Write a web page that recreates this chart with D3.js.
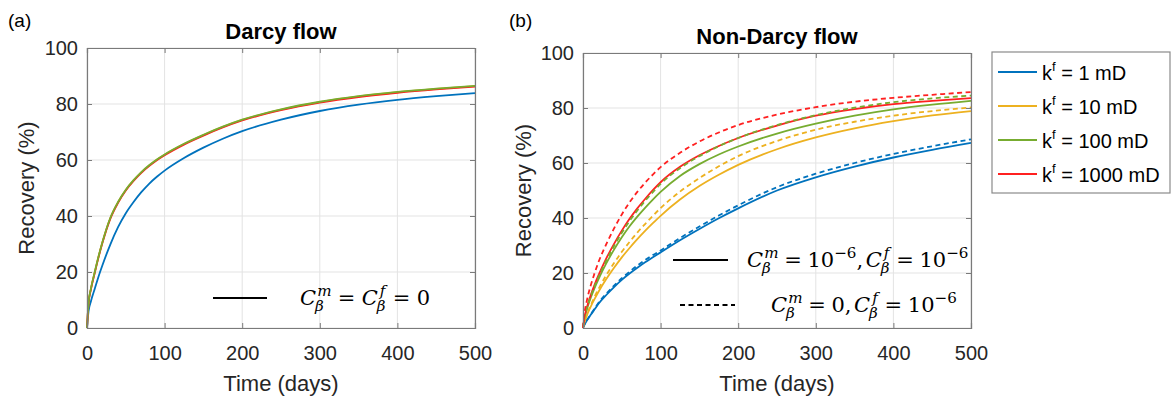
<!DOCTYPE html>
<html><head><meta charset="utf-8">
<script src="https://cdn.jsdelivr.net/npm/d3@7"></script>
<style>
body{margin:0;background:#fff;}
svg{display:block;font-family:"Liberation Sans",Arial,sans-serif;}
</style></head>
<body><svg id="chart" width="1173" height="403"></svg>
<script>
// ---------- data ----------
const days = [0,2,5,10,15,20,30,40,50,60,70,80,90,100,125,150,175,200,250,300,350,400,450,500];
const xTicks = [0,100,200,300,400,500];
const yTicks = [0,20,40,60,80,100];
const seriesNames = ["k^f = 1 mD","k^f = 10 mD","k^f = 100 mD","k^f = 1000 mD"];
const legendMD = ["1 mD","10 mD","100 mD","1000 mD"];
const seriesColors = ["#0072BD","#EDB120","#77AC30","#FF2020"];

// (a) Darcy flow
const darcy1    = [0,6,9.5,14,18.5,22.5,29.8,36,41,45,48.5,51.5,54,56.2,60.7,64.4,67.6,70.3,74.4,77.5,79.8,81.5,82.8,83.9];
const darcy10   = [0,8.9,13.9,19.9,25.6,30.7,39.2,44.9,49.3,52.7,55.6,58,60.1,61.9,65.7,68.9,71.8,74.3,78,80.7,82.7,84.2,85.4,86.4];
const darcy100  = [0,9,14,20,25.7,30.8,39.3,45,49.4,52.8,55.7,58.1,60.2,62,65.8,69,71.9,74.4,78.1,80.8,82.8,84.3,85.5,86.5];
const darcy1000 = [0,8.7,13.7,19.7,25.4,30.5,39,44.7,49.1,52.5,55.4,57.8,59.9,61.7,65.5,68.7,71.6,74.1,77.8,80.5,82.5,84,85.2,86.2];

// (b) Non-Darcy flow, solid: Cm=1e-6, Cf=1e-6
const solid1    = [0,1.2,2.7,4.8,6.8,8.8,12,14.9,17.5,19.8,21.9,23.9,25.7,27.5,31.9,36,39.9,43.5,50,54.8,58.7,62,64.8,67.3];
const solid10   = [0,2.2,4.6,7.8,10.6,13.2,17.8,21.9,25.7,29.1,32.3,35.3,38.1,40.8,46.7,51.6,55.7,59.3,65,69.3,72.6,75.2,77.3,78.9];
const solid100  = [0,3.5,6.8,11,14.6,17.8,23.5,28.5,33,37,40.5,43.7,46.7,49.5,55.3,59.6,63.1,66,70.7,74.3,77.2,79.5,81.2,82.6];
const solid1000 = [0,4,7.5,12,15.8,19.2,25.3,30.6,35.4,39.7,43.5,46.9,50.1,53,58.6,62.8,66.2,69.1,73.6,77.2,79.6,81.4,82.6,83.6];
// dashed: Cm=0, Cf=1e-6
const dash1    = [0,1.3,2.8,5,7.1,9.2,12.5,15.4,18.1,20.5,22.7,24.7,26.5,28.2,32.7,36.9,40.9,44.6,51.2,56.1,60,63.3,66.1,68.6];
const dash10   = [0,2.3,4.9,8.3,11.4,14.2,19.2,23.6,27.7,31.3,34.7,37.8,40.8,43.6,49.6,54.5,58.8,62.5,68,72.1,75,77.2,78.9,80.2];
const dash100  = [0,3.8,7.2,11.5,15.2,18.5,24.5,29.8,34.6,38.9,42.7,46.2,49.4,52.4,58.1,62.5,66.1,69.1,73.8,77.4,80.1,82.1,83.5,84.5];
const dash1000 = [0,5.5,10,15.5,20,24,30.5,36.2,41.3,45.7,49.5,52.8,55.8,58.5,63.7,67.8,71.1,73.8,77.6,80.3,82.3,83.7,84.8,85.8];

// ---------- drawing ----------
const svg = d3.select("#chart");
const gridColor = "#e3e3e3", frameColor = "#7a7a7a", textColor = "#262626";

function panel(left, top, right, bottom, title, titleY, ylabX, series) {
  const x = d3.scaleLinear().domain([0,500]).range([left,right]);
  const y = d3.scaleLinear().domain([0,100]).range([bottom,top]);
  const g = svg.append("g");
  g.append("g").selectAll("line").data(xTicks).join("line")
    .attr("x1",d=>x(d)).attr("x2",d=>x(d)).attr("y1",top).attr("y2",bottom)
    .attr("stroke",gridColor).attr("stroke-width",1);
  g.append("g").selectAll("line").data(yTicks).join("line")
    .attr("y1",d=>y(d)).attr("y2",d=>y(d)).attr("x1",left).attr("x2",right)
    .attr("stroke",gridColor).attr("stroke-width",1);
  const line = d3.line().x((d,i)=>x(days[i])).y(d=>y(d)).curve(d3.curveMonotoneX);
  series.forEach(s=>{
    g.append("path").datum(s.v).attr("d",line).attr("fill","none")
      .attr("stroke",s.c).attr("stroke-width",1.8)
      .attr("stroke-dasharray",s.dash?"5,3.5":null);
  });
  const xa = g.append("g").attr("transform",`translate(0,${bottom})`)
    .call(d3.axisBottom(x).tickValues(xTicks).tickSize(-5).tickPadding(0));
  const ya = g.append("g").attr("transform",`translate(${left},0)`)
    .call(d3.axisLeft(y).tickValues(yTicks).tickSize(-5).tickPadding(9));
  g.append("g").attr("transform",`translate(0,${top})`)
    .call(d3.axisTop(x).tickValues(xTicks).tickSize(-5).tickFormat(""));
  g.append("g").attr("transform",`translate(${right},0)`)
    .call(d3.axisRight(y).tickValues(yTicks).tickSize(-5).tickFormat(""));
  g.selectAll(".domain").attr("stroke",frameColor).attr("stroke-width",1.2);
  g.selectAll(".tick line").attr("stroke",frameColor);
  xa.selectAll(".tick text").attr("y",32).attr("dy",0)
    .attr("font-size",20).attr("fill",textColor).attr("font-family","Liberation Sans, Arial, sans-serif");
  ya.selectAll(".tick text").attr("font-size",20).attr("fill",textColor)
    .attr("font-family","Liberation Sans, Arial, sans-serif");
  g.append("text").attr("x",(left+right)/2).attr("y",391).attr("text-anchor","middle")
    .attr("font-size",22).attr("fill",textColor).text("Time (days)");
  g.append("text").attr("transform",`translate(${ylabX},${(top+bottom)/2}) rotate(-90)`)
    .attr("text-anchor","middle").attr("font-size",22).attr("fill",textColor).text("Recovery (%)");
  g.append("text").attr("x",(left+right)/2).attr("y",titleY).attr("text-anchor","middle")
    .attr("font-size",22).attr("font-weight","bold").attr("fill","#000").text(title);
  return {x,y,g};
}

const A = panel(87,48,475,328,"Darcy flow",39,34,[
  {v:darcy1,c:seriesColors[0]},
  {v:darcy10,c:seriesColors[1]},
  {v:darcy1000,c:seriesColors[3]},
  {v:darcy100,c:seriesColors[2]}
]);
const B = panel(583,53,971,328,"Non-Darcy flow",44,531,[
  {v:solid1,c:seriesColors[0]},
  {v:solid10,c:seriesColors[1]},
  {v:solid100,c:seriesColors[2]},
  {v:solid1000,c:seriesColors[3]},
  {v:dash1,c:seriesColors[0],dash:true},
  {v:dash10,c:seriesColors[1],dash:true},
  {v:dash100,c:seriesColors[2],dash:true},
  {v:dash1000,c:seriesColors[3],dash:true}
]);

svg.append("text").attr("x",8).attr("y",27).attr("font-size",19).attr("fill","#000").text("(a)");
svg.append("text").attr("x",509).attr("y",27).attr("font-size",19).attr("fill","#000").text("(b)");

function mathText(x0, y0, items, fs) {
  const g = svg.append("g").attr("font-family","DejaVu Serif, Liberation Serif, serif").attr("fill","#000");
  let cx = x0;
  items.forEach(it=>{
    if (it.gap) cx += it.gap*fs;
    if (it.t) {
      const el = g.append("text").attr("x",cx).attr("y",y0).attr("font-size",fs)
        .style("font-style",it.it?"italic":"normal").text(it.t);
      cx += el.node().getComputedTextLength();
    }
    if (it.sup || it.sub) {
      let w = 0;
      if (it.sup) {
        const e = g.append("text").attr("x",cx+(it.supShift||0)*fs).attr("y",y0-0.45*fs).attr("font-size",fs*0.72)
          .style("font-style",it.supIt===false?"normal":"italic").text(it.sup);
        w = Math.max(w, e.node().getComputedTextLength()+(it.supShift||0)*fs);
      }
      if (it.sub) {
        const e = g.append("text").attr("x",cx-0.05*fs).attr("y",y0+0.3*fs).attr("font-size",fs*0.72)
          .style("font-style","italic").text(it.sub);
        w = Math.max(w, e.node().getComputedTextLength());
      }
      cx += w;
    }
  });
}

A.g.append("line").attr("x1",213).attr("x2",267).attr("y1",298).attr("y2",298)
  .attr("stroke","#000").attr("stroke-width",2);
mathText(300,305,[
  {t:"C",it:true},{sup:"m",sub:"β",supShift:0.05},
  {gap:0.3,t:"="},{gap:0.3,t:"C",it:true},{sup:"f",sub:"β",supShift:0.1},
  {gap:0.3,t:"="},{gap:0.3,t:"0"}
],21);

B.g.append("line").attr("x1",673).attr("x2",728).attr("y1",260).attr("y2",260)
  .attr("stroke","#000").attr("stroke-width",2);
B.g.append("line").attr("x1",680).attr("x2",735).attr("y1",305).attr("y2",305)
  .attr("stroke","#000").attr("stroke-width",2).attr("stroke-dasharray","5,3.5");
mathText(747,267,[
  {t:"C",it:true},{sup:"m",sub:"β",supShift:0.05},
  {gap:0.27,t:"="},{gap:0.27,t:"10"},{sup:"−6",supIt:false},
  {t:","},{gap:0.12,t:"C",it:true},{sup:"f",sub:"β",supShift:0.1},
  {gap:0.27,t:"="},{gap:0.27,t:"10"},{sup:"−6",supIt:false}
],21);
mathText(771,312,[
  {t:"C",it:true},{sup:"m",sub:"β",supShift:0.05},
  {gap:0.27,t:"="},{gap:0.27,t:"0"},{t:","},{gap:0.12,t:"C",it:true},{sup:"f",sub:"β",supShift:0.1},
  {gap:0.27,t:"="},{gap:0.27,t:"10"},{sup:"−6",supIt:false}
],21);

const lg = svg.append("g");
lg.append("rect").attr("x",992).attr("y",52).attr("width",178).attr("height",141)
  .attr("fill","#fff").attr("stroke","#8a8a8a").attr("stroke-width",1.2);
const rowY = d3.scalePoint().domain(d3.range(seriesNames.length)).range([72,174]);
seriesNames.forEach((n,i)=>{
  lg.append("line").attr("x1",998).attr("x2",1037).attr("y1",rowY(i)).attr("y2",rowY(i))
    .attr("stroke",seriesColors[i]).attr("stroke-width",1.8);
  const t = lg.append("text").attr("x",1042).attr("y",rowY(i)+8).attr("font-size",20).attr("fill","#000");
  t.append("tspan").text("k");
  t.append("tspan").attr("dy",-9).attr("font-size",13).text("f");
  t.append("tspan").attr("dy",9).text(" = "+legendMD[i]);
});
</script></body></html>
